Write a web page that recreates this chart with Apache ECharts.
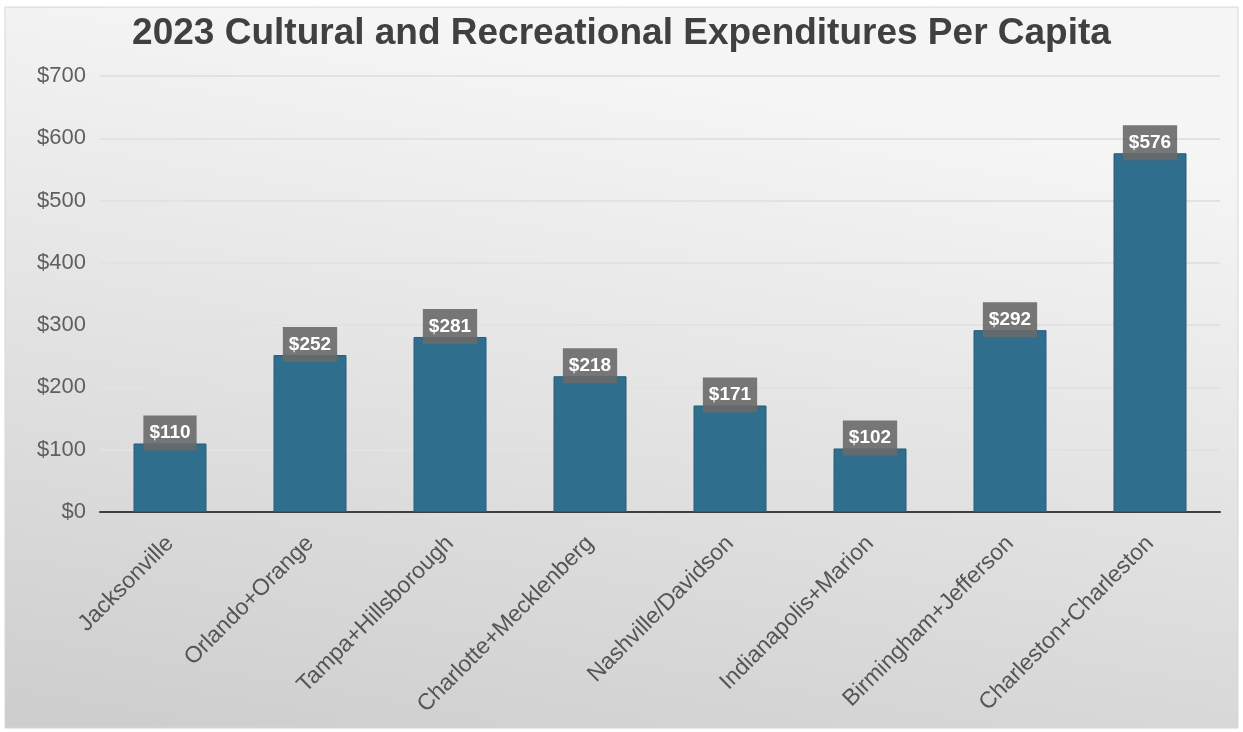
<!DOCTYPE html>
<html>
<head>
<meta charset="utf-8">
<script src="https://cdn.jsdelivr.net/npm/echarts@6/dist/echarts.min.js"></script>
<style>
  html, body { margin: 0; padding: 0; background: #ffffff; }
  #chart { width: 1243px; height: 732px; }
</style>
</head>
<body>
<div id="chart"></div>
<script>
// Per-capita cultural and recreational spending, 2023
const categories = [
  'Jacksonville',
  'Orlando+Orange',
  'Tampa+Hillsborough',
  'Charlotte+Mecklenberg',
  'Nashville/Davidson',
  'Indianapolis+Marion',
  'Birmingham+Jefferson',
  'Charleston+Charleston'
];
const spending = [110, 252, 281, 218, 171, 102, 292, 576];
const yTicks = [0, 100, 200, 300, 400, 500, 600, 700];

const chart = echarts.init(document.getElementById('chart'), null, { renderer: 'canvas' });

chart.setOption({
  animation: false,
  textStyle: { fontFamily: 'Liberation Sans, Arial, sans-serif' },
  graphic: [{
    type: 'rect',
    z: -10,
    shape: { x: 5, y: 7, width: 1233, height: 721 },
    style: {
      fill: {
        type: 'linear', x: 0.2, y: 0, x2: 0.1, y2: 1,
        colorStops: [
          { offset: 0, color: '#f5f5f5' },
          { offset: 1, color: '#cecece' }
        ]
      },
      stroke: '#d6d6d6',
      lineWidth: 1
    }
  }],
  title: {
    text: '2023 Cultural and Recreational Expenditures Per Capita',
    left: 'center',
    top: 10,
    textStyle: { fontSize: 37, fontWeight: 'bold', color: '#404040' }
  },
  grid: { left: 100, right: 23, top: 76, bottom: 220, containLabel: false },
  xAxis: {
    type: 'category',
    data: categories,
    axisLine: { lineStyle: { color: '#3f3f3f', width: 2 } },
    axisTick: { show: false },
    axisLabel: {
      rotate: 45,
      interval: 0,
      margin: 28,
      fontSize: 23,
      color: '#555555'
    }
  },
  yAxis: {
    type: 'value',
    min: yTicks[0],
    max: yTicks[yTicks.length - 1],
    interval: 100,
    axisLine: { show: false },
    axisTick: { show: false },
    splitLine: { lineStyle: { color: '#e2e2e2', width: 2 } },
    axisLabel: {
      margin: 14,
      fontSize: 22,
      color: '#5f5f5f',
      formatter: v => '$' + v
    }
  },
  series: [{
    type: 'bar',
    data: spending,
    barWidth: 73,
    itemStyle: { color: '#2f6f8d', borderColor: '#275f7a', borderWidth: 1 },
    label: {
      show: true,
      position: 'top',
      distance: -7,
      formatter: p => '$' + p.value,
      fontSize: 19,
      fontWeight: 'bold',
      color: '#ffffff',
      backgroundColor: 'rgba(105,105,105,0.9)',
      padding: [8, 6, 8, 6]
    }
  }]
});
</script>
</body>
</html>
